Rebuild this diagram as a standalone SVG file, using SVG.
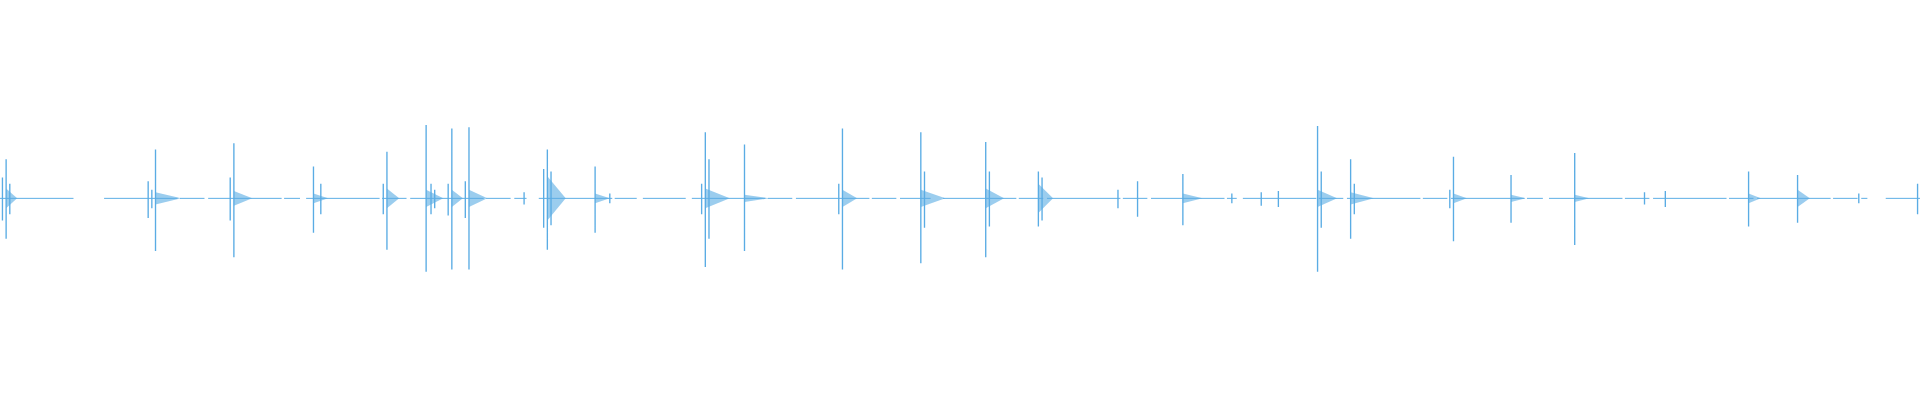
<svg xmlns="http://www.w3.org/2000/svg" width="1920" height="400" viewBox="0 0 1920 400">
<style>
.b{stroke:#5aace4;stroke-width:0.8;fill:none}
.s{stroke:#5aace4;stroke-width:1.1;fill:none}
.d{fill:#5aace4;opacity:0.6}
</style>
<rect width="1920" height="400" fill="#fff"/>
<g transform="scale(1.2245)">
<path class="b" d="M0 162H60M85 162H245M250 162H430M440 162H520M525 162H560M565 162H760M770 162H1010M1015 162H1260M1265 162H1525M1540 162H1568" stroke-dasharray="60 2 20 3"/>
<path class="s" d="M5 130V195M2 145V180M8 150V175M127 122V205M121 148V178M124 155V170M191 117V210M188 145V180M256 136V190M262 150V175M316 124V204M313 150V175M348 102V222M352 150V175M355 155V170M369 105V220M366 150V176M383 104V220M380 148V178M447 122V204M444 138V186M450 140V184M486 136V190M576 108V218M573 150V175M579 130V195M608 118V205M688 105V220M685 150V175M752 108V215M755 140V186M805 116V210M808 140V185M848 140V185M851 145V180M913 155V170M929 148V177M966 142V184M1076 103V222M1079 140V186M1103 130V195M1106 150V175M1187 128V197M1184 155V170M1234 143V182M1286 125V200M1428 140V185M1468 143V182M1566 150V175M428 157V167M498 158V166M1006 158V166M1030 157V168M1044 156V169M1343 157V167M1360 156V169M1518 158V166"/>
<g class="d">
<polygon points="5,154 14,162 5,170"/>
<polygon points="127,157 148,162 127,167"/>
<polygon points="191,156 206,162 191,168"/>
<polygon points="256,158 268,162 256,166"/>
<polygon points="316,154 326,162 316,170"/>
<polygon points="348,155 362,162 348,169"/>
<polygon points="369,155 378,162 369,169"/>
<polygon points="383,155 398,162 383,169"/>
<polygon points="447,144 462,162 447,180"/>
<polygon points="486,158 498,162 486,166"/>
<polygon points="576,154 596,162 576,170"/>
<polygon points="608,159 628,162 608,165"/>
<polygon points="688,155 700,162 688,169"/>
<polygon points="752,155 772,162 752,169"/>
<polygon points="805,154 820,162 805,170"/>
<polygon points="848,150 860,162 848,174"/>
<polygon points="966,158 982,162 966,166"/>
<polygon points="1076,155 1092,162 1076,169"/>
<polygon points="1103,157 1122,162 1103,167"/>
<polygon points="1187,158 1198,162 1187,166"/>
<polygon points="1234,159 1246,162 1234,165"/>
<polygon points="1286,159 1298,162 1286,165"/>
<polygon points="1428,158 1438,162 1428,166"/>
<polygon points="1468,155 1478,162 1468,169"/>
</g>
</g>
</svg>
